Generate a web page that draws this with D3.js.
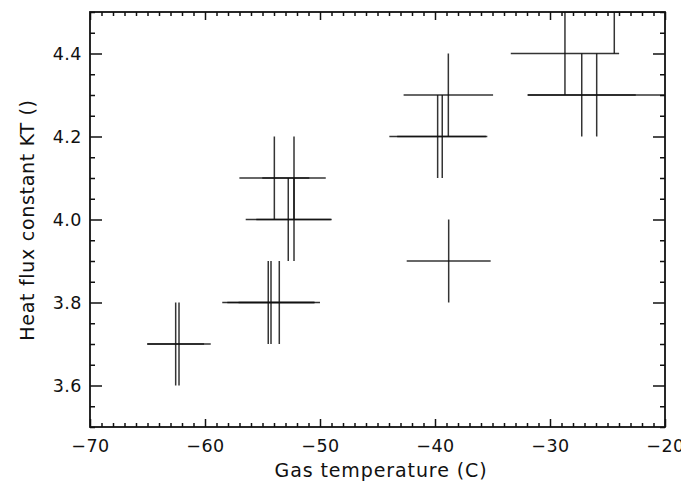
<!DOCTYPE html>
<html>
<head>
<meta charset="utf-8">
<script src="https://cdn.jsdelivr.net/npm/d3@7"></script>
<style>
  html, body { margin: 0; padding: 0; background: #fff; }
  svg { display: block; }
  text { font-family: "DejaVu Sans", sans-serif; fill: #111; }
</style>
</head>
<body>
<svg id="chart" width="681" height="490"></svg>
<script>
// ---- data ----
const gasTemp   = [-62.55, -62.26, -54.50, -54.26, -53.54, -53.97, -52.26, -52.76, -52.26, -38.81, -39.77, -39.37, -38.84, -28.70, -24.41, -27.24, -25.94];
const heatFlux  = [3.7, 3.7, 3.8, 3.8, 3.8, 4.1, 4.1, 4.0, 4.0, 3.9, 4.2, 4.2, 4.3, 4.4, 4.5, 4.3, 4.3];
const tempErr   = [2.47, 2.76, 4.0, 3.8, 3.54, 3.04, 2.76, 3.70, 3.28, 3.65, 4.20, 3.92, 3.89, 4.71, 4.5, 4.70, 6.0];
const fluxErr   = [0.1, 0.1, 0.1, 0.1, 0.1, 0.1, 0.1, 0.1, 0.1, 0.1, 0.1, 0.1, 0.1, 0.1, 0.1, 0.1, 0.1];
const xTickVals = [-70, -60, -50, -40, -30, -20];
const yTickVals = [3.6, 3.8, 4.0, 4.2, 4.4];
const xDomain   = [-70, -20];
const yDomain   = [3.5, 4.5];
const xTitle    = "Gas temperature (C)";
const yTitle    = "Heat flux constant KT ()";

// ---- layout ----
const L = 90, R = 665, T = 12, B = 427;
const svg = d3.select("#chart");
const x = d3.scaleLinear().domain(xDomain).range([L, R]);
const y = d3.scaleLinear().domain(yDomain).range([B, T]);

const xMinor = d3.range(xDomain[0], xDomain[1] + 0.001, 1).filter(v => !xTickVals.includes(v));
const yMinor = d3.range(0, 21).map(i => +(yDomain[0] + i * 0.05).toFixed(2)).filter(v => !yTickVals.some(t => Math.abs(t - v) < 1e-6));

function styleAxis(g, hideText) {
  g.select(".domain").remove();
  g.selectAll(".tick line").attr("stroke", "#111").attr("stroke-width", 1.5);
  if (hideText) g.selectAll(".tick text").remove();
  else g.selectAll(".tick text").attr("font-size", 17.5).attr("fill", "#111")
        .attr("letter-spacing", 0.5).attr("font-family", "DejaVu Sans, sans-serif");
}

// bottom
svg.append("g").attr("transform", `translate(0,${B})`)
  .call(d3.axisBottom(x).tickValues(xTickVals).tickSizeInner(-8).tickSizeOuter(0).tickPadding(13).tickFormat(d3.format("d")))
  .call(g => styleAxis(g, false));
svg.append("g").attr("transform", `translate(0,${B})`)
  .call(d3.axisBottom(x).tickValues(xMinor).tickSizeInner(-4).tickSizeOuter(0).tickFormat(""))
  .call(g => styleAxis(g, true));
// top
svg.append("g").attr("transform", `translate(0,${T})`)
  .call(d3.axisTop(x).tickValues(xTickVals).tickSizeInner(-8).tickSizeOuter(0).tickFormat(""))
  .call(g => styleAxis(g, true));
svg.append("g").attr("transform", `translate(0,${T})`)
  .call(d3.axisTop(x).tickValues(xMinor).tickSizeInner(-4).tickSizeOuter(0).tickFormat(""))
  .call(g => styleAxis(g, true));
// left
svg.append("g").attr("transform", `translate(${L},0)`)
  .call(d3.axisLeft(y).tickValues(yTickVals).tickSizeInner(-12).tickSizeOuter(0).tickPadding(8).tickFormat(d3.format(".1f")))
  .call(g => styleAxis(g, false));
svg.append("g").attr("transform", `translate(${L},0)`)
  .call(d3.axisLeft(y).tickValues(yMinor).tickSizeInner(-5).tickSizeOuter(0).tickFormat(""))
  .call(g => styleAxis(g, true));
// right
svg.append("g").attr("transform", `translate(${R},0)`)
  .call(d3.axisRight(y).tickValues(yTickVals).tickSizeInner(-12).tickSizeOuter(0).tickFormat(""))
  .call(g => styleAxis(g, true));
svg.append("g").attr("transform", `translate(${R},0)`)
  .call(d3.axisRight(y).tickValues(yMinor).tickSizeInner(-5).tickSizeOuter(0).tickFormat(""))
  .call(g => styleAxis(g, true));

// clip
svg.append("clipPath").attr("id", "clip").append("rect")
  .attr("x", L).attr("y", T).attr("width", R - L).attr("height", B - T);

// error-bar crosses
const pts = gasTemp.map((t, i) => ({ t, k: heatFlux[i], et: tempErr[i], ek: fluxErr[i] }));
const marks = svg.append("g").attr("clip-path", "url(#clip)")
  .attr("stroke", "#111").attr("stroke-width", 1.5).attr("stroke-opacity", 0.85);
marks.selectAll("line.h").data(pts).join("line").attr("class", "h")
  .attr("x1", d => x(d.t - d.et)).attr("x2", d => x(d.t + d.et))
  .attr("y1", d => y(d.k)).attr("y2", d => y(d.k));
marks.selectAll("line.v").data(pts).join("line").attr("class", "v")
  .attr("x1", d => x(d.t)).attr("x2", d => x(d.t))
  .attr("y1", d => y(d.k - d.ek)).attr("y2", d => y(d.k + d.ek));

// frame
svg.append("rect").attr("x", L).attr("y", T).attr("width", R - L).attr("height", B - T)
  .attr("fill", "none").attr("stroke", "#111").attr("stroke-width", 1.8);

// titles
svg.append("text").attr("x", 381).attr("y", 477).attr("text-anchor", "middle")
  .attr("font-size", 19).attr("letter-spacing", 0.9).text(xTitle);
svg.append("text").attr("transform", "translate(34,220) rotate(-90)").attr("text-anchor", "middle")
  .attr("font-size", 19).attr("letter-spacing", 0.7).text(yTitle);
</script>
</body>
</html>
